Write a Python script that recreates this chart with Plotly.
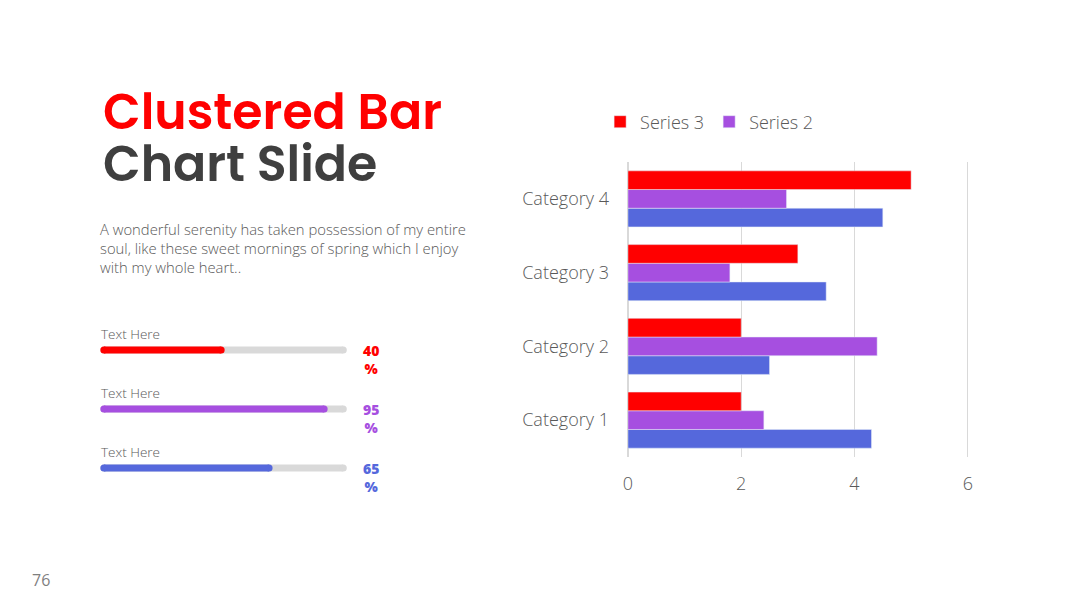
import plotly.graph_objects as go

# ---------------- data ----------------
categories = ["Category 1", "Category 2", "Category 3", "Category 4"]
series1 = [4.3, 2.5, 3.5, 4.5]
series2 = [2.4, 4.4, 1.8, 2.8]
series3 = [2.0, 2.0, 3.0, 5.0]
x_ticks = [0, 2, 4, 6]

progress_labels = ["Text Here", "Text Here", "Text Here"]
progress_fill = [0.49, 0.92, 0.69]
progress_pct = ["40", "95", "65"]
progress_rows = [0, 1, 2]

# ---------------- styles ----------------
RED = "#FF0000"
PURPLE = "#A64FE0"
BLUE = "#5568DC"
GRAY_TXT = "#595959"
GRID = "#D9D9D9"
progress_colors = [RED, PURPLE, BLUE]
W, H = 1080, 608

def px_x(p):
    return p / W

def px_y(p):
    return 1 - p / H

fig = go.Figure()

# main clustered bar chart (first trace drawn at bottom of each group)
fig.add_trace(go.Bar(y=categories, x=series1, orientation="h", name="Series 1",
                     marker=dict(color=BLUE), showlegend=False))
fig.add_trace(go.Bar(y=categories, x=series2, orientation="h", name="Series 2",
                     marker=dict(color=PURPLE)))
fig.add_trace(go.Bar(y=categories, x=series3, orientation="h", name="Series 3",
                     marker=dict(color=RED)))

# progress bars (tracks + fills) on a second subplot
for r, f, c in zip(progress_rows, progress_fill, progress_colors):
    fig.add_trace(go.Scatter(x=[0, 1], y=[r, r], mode="lines+markers",
                             line=dict(color=GRID, width=7),
                             marker=dict(color=GRID, size=7),
                             xaxis="x2", yaxis="y2", showlegend=False,
                             cliponaxis=False, hoverinfo="skip"))
    fig.add_trace(go.Scatter(x=[0, f], y=[r, r], mode="lines+markers",
                             line=dict(color=c, width=7),
                             marker=dict(color=c, size=7),
                             xaxis="x2", yaxis="y2", showlegend=False,
                             cliponaxis=False, hoverinfo="skip"))

annotations = []
# title
annotations.append(dict(text="Clustered Bar", x=px_x(97), y=px_y(112), xref="paper", yref="paper",
                        xanchor="left", yanchor="middle", showarrow=False,
                        font=dict(family="Poppins, Inter, sans-serif", size=49, color=RED, weight=600)))
annotations.append(dict(text="Chart Slide", x=px_x(97), y=px_y(164), xref="paper", yref="paper",
                        xanchor="left", yanchor="middle", showarrow=False,
                        font=dict(family="Poppins, Inter, sans-serif", size=49, color="#3F3F3F", weight=600)))
# paragraph
annotations.append(dict(text="A wonderful serenity has taken possession of my entire<br>"
                             "soul, like these sweet mornings of spring which I enjoy<br>"
                             "with my whole heart..",
                        x=px_x(94), y=px_y(248), xref="paper", yref="paper",
                        xanchor="left", yanchor="middle", align="left", showarrow=False,
                        font=dict(family="Open Sans", size=14.8, color=GRAY_TXT, weight=300)))
# progress labels
for r, lab, pct, c in zip(progress_rows, progress_labels, progress_pct, progress_colors):
    annotations.append(dict(text=lab, x=0, y=r, xref="x2", yref="y2", xshift=-5, yshift=16,
                            xanchor="left", yanchor="middle", showarrow=False,
                            font=dict(family="Open Sans", size=13.5, color=GRAY_TXT, weight=300)))
    annotations.append(dict(text=pct + "<br>%", x=px_x(368), y=r, xref="paper", yref="y2", yshift=-9,
                            xanchor="center", yanchor="middle", align="center", showarrow=False,
                            font=dict(family="Open Sans", size=14, color=c, weight=800)))
# page number
annotations.append(dict(text="76", x=px_x(36), y=px_y(580), xref="paper", yref="paper",
                        xanchor="center", yanchor="middle", showarrow=False,
                        font=dict(family="Open Sans", size=16, color="#7F7F7F")))

fig.update_layout(
    width=W, height=H, autosize=False,
    margin=dict(l=0, r=0, t=0, b=0),
    paper_bgcolor="white", plot_bgcolor="white",
    barmode="group", bargap=0.24, bargroupgap=0,
    font=dict(family="Open Sans", color=GRAY_TXT),
    legend=dict(orientation="h", traceorder="reversed", x=px_x(599), y=px_y(122),
                xanchor="left", yanchor="middle",
                font=dict(family="Open Sans", size=18, color=GRAY_TXT, weight=300),
                bgcolor="rgba(0,0,0,0)"),
    xaxis=dict(domain=[px_x(627), px_x(971.9)], range=[0, 6.05], tickvals=x_ticks,
               showgrid=True, gridcolor=GRID, gridwidth=1,
               zeroline=True, zerolinecolor=GRID, zerolinewidth=2,
               showline=False, ticks="", ticklabelstandoff=14,
               tickfont=dict(family="Open Sans", size=18, color=GRAY_TXT, weight=300),
               fixedrange=True),
    yaxis=dict(domain=[px_y(457), px_y(162)], range=[-0.5, 3.5], type="category",
               categoryorder="array", categoryarray=categories,
               showgrid=False, zeroline=False, showline=False, ticks="",
               ticklabelstandoff=18,
               tickfont=dict(family="Open Sans", size=18, color=GRAY_TXT, weight=300),
               fixedrange=True),
    xaxis2=dict(domain=[px_x(99.5), px_x(340.5)], range=[0, 1], anchor="y2",
                visible=False, fixedrange=True),
    yaxis2=dict(domain=[px_y(497.5), px_y(320.5)], range=[2.5, -0.5], anchor="x2",
                visible=False, fixedrange=True),
    annotations=annotations,
)

fig.write_html("out.html")
